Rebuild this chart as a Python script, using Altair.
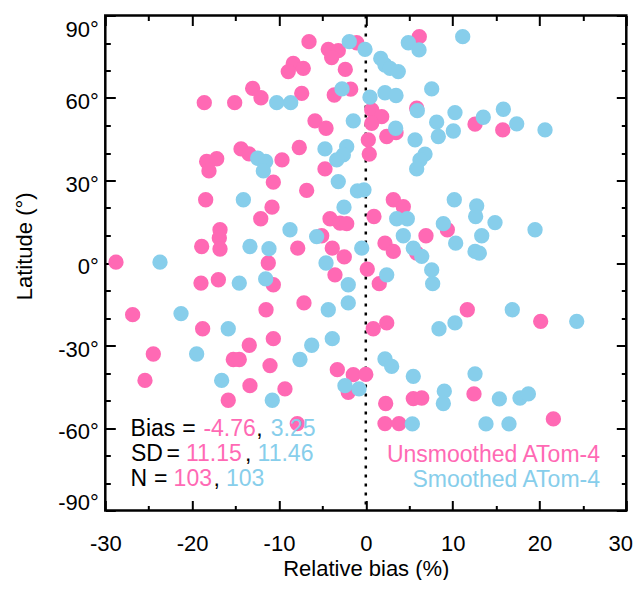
import altair as alt
import pandas as pd

PINK = "#FF69B4"
BLUE = "#87CEEB"
FONT = "Liberation Sans"
FS = 22
FS_NOTE = 23

# Unsmoothed ATom-4 (pink): relative bias (%) and latitude (deg)
pink_x = [-6.54, -4.32, -3.17, -3.93, -1.05, -2.36, -8.35, -8.93, -7.2, -13.03,
          -12.07, -18.6, -15.1, -7.38, -3.63, -1.74, -5.85, -4.58, -14.37, -13.45,
          -18.33, -17.17, -18.06, -7.66, -9.65, -4.70, -10.65, -6.81, -18.44, -10.8,
          -12.1, -4.12, -2.97, -2.2, -16.79, -16.87, -18.9, -16.79, -7.84, -5.08,
          -3.86, -2.48, -28.77, -11.23,
          6.16, 0.68, 1.83, 0.68, 5.86, 2.41, 3.48, 0.29, 0.4, 12.58,
          15.77, 3.17, 4.32, 0.94, 6.93, 9.39, 2.21, 3.17, 5.86,
          -3.55, -18.98, -16.98, -10.65, -26.85, -11.49, -7.12, -18.79, -10.65, -13.42,
          -24.47, -15.26, -14.57, -11.03, -3.28, -1.44, 0.0, -2.02, -25.43, -13.34,
          -9.31, -15.84, -7.89,
          0.17, 1.55, 0.86, 2.41, 11.69, 20.14, 2.29, 5.47, 6.44, 12.46,
          2.21, 3.82, 21.6]
pink_y = [80.5, 77.7, 77.2, 74.7, 80.1, 70.4, 72.6, 69.6, 70.8, 63.5,
          60.1, 58.3, 58.3, 61.7, 61.1, 63.2, 51.7, 49.0, 41.5, 39.7,
          36.9, 37.9, 33.5, 42.0, 37.5, 34.2, 29.4, 26.4, 23.0, 20.3,
          16.1, 16.1, 14.5, 14.3, 12.1, 9.1, 6.0, 5.1, 5.4, 9.9,
          5.4, 2.2, 0.3, 0.0,
          82.3, 55.7, 53.2, 50.8, 56.3, 46.0, 47.4, 44.8, 39.6, 50.5,
          48.4, 23.0, 20.5, 16.9, 9.9, 12.1, 7.2, 4.2, 3.6,
          -4.3, -7.3, -6.1, -7.9, -18.8, -17.0, -14.5, -23.9, -27.5, -29.9,
          -33.1, -35.1, -35.1, -37.3, -38.8, -40.6, -40.5, -47.0, -42.7, -44.6,
          -45.8, -49.9, -58.4,
          -2.2, -7.5, -23.9, -21.8, -17.0, -21.2, -51.1, -49.3, -49.1, -47.6,
          -58.4, -58.4, -56.7]

# Smoothed ATom-4 (blue)
blue_x = [-1.9, -0.09, -2.74, -10.26, -8.65, -1.44, -4.7, -2.2, -2.59, -3.35,
          -12.45, -11.53, -11.8, -3.17, -0.96, -14.1, -2.51, -8.73, -5.66, -13.34,
          -11.15, -0.47, -23.7, -4.58,
          11.16, 4.9, 6.13, 1.72, 2.21, 2.79, 3.74, 7.59, 0.48, 2.21,
          3.48, 5.93, 10.27, 13.53, 15.84, 17.38, 20.64, 8.16, 10.08, 8.35,
          3.44, 5.67, 6.82, 6.24, 5.86, -0.21, 10.19, 12.77, 12.65, 14.88,
          19.49, 3.56, 4.78, 8.93, 4.32, 13.35, 10.35, 5.47, 6.44, 12.58, 13.07,
          -14.57, -11.53, -2.02, -2.02, -4.32, -21.28, -15.84, -3.86, -6.23, -19.48,
          -7.58, -16.6, -10.77, -2.4, -0.78,
          2.41, 7.59, 7.7, 16.87, 24.29, 8.43, 10.27, 2.21, 2.98, 5.47,
          12.58, 9.04, 8.93, 15.38, 17.76, 18.72, 5.36, 13.84, 16.49]
blue_y = [80.5, 77.7, 63.3, 58.3, 58.3, 51.7, 41.5, 42.3, 39.3, 37.5,
          38.1, 36.9, 33.5, 29.6, 26.2, 23.0, 20.3, 12.1, 9.6, 6.0,
          5.2, 5.4, 0.3, 0.0,
          82.3, 80.1, 77.5, 74.4, 72.0, 70.8, 69.6, 63.3, 60.3, 61.9,
          60.9, 55.4, 54.7, 53.0, 55.9, 50.6, 48.4, 51.2, 48.0, 46.0,
          49.0, 44.8, 39.6, 37.5, 34.2, 26.6, 23.0, 20.8, 16.9, 14.7,
          12.1, 16.1, 16.1, 14.3, 9.9, 9.9, 7.2, 5.4, 2.4, 4.2, 3.6,
          -7.3, -5.8, -7.9, -14.5, -17.0, -18.4, -23.9, -27.5, -29.9, -33.1,
          -35.1, -42.7, -49.9, -44.6, -45.8,
          -4.3, -2.5, -7.5, -17.0, -21.2, -23.9, -21.8, -34.9, -37.6, -41.2,
          -40.3, -46.6, -51.1, -49.4, -49.1, -47.6, -58.5, -58.5, -58.5]

x_major = [-30, -20, -10, 0, 10, 20, 30]
x_minor = [-25, -15, -5, 5, 15, 25]
y_major = [-90, -60, -30, 0, 30, 60, 90]
y_minor = [-80, -70, -50, -40, -20, -10, 10, 20, 40, 50, 70, 80]

series_names = ["Unsmoothed ATom-4", "Smoothed ATom-4"]
bias_vals = ["-4.76", "3.25"]
sd_vals = ["11.15", "11.46"]
n_vals = ["103", "103"]

pink_df = pd.DataFrame({"x": pink_x, "y": pink_y})
blue_df = pd.DataFrame({"x": blue_x, "y": blue_y})

W, H = 521, 495
xscale = alt.Scale(domain=[-30, 30], nice=False, zero=False)
yscale = alt.Scale(domain=[-90, 90], nice=False, zero=False)


def tick_axis(orient, values, size, **kw):
    base = dict(orient=orient, values=values, tickSize=size, offset=-size,
                domain=False, grid=False, tickColor="black", tickWidth=2,
                labels=False, title=None)
    base.update(kw)
    return alt.Axis(**base)


ax_bottom = tick_axis(
    "bottom", x_major, 10, labels=True, labelFont=FONT, labelFontSize=FS,
    labelColor="black", labelPadding=23, labelFlush=False, labelOverlap=False,
    labelOffset={"condition": {"test": "datum.value == 30", "value": -6},
                 "value": 0},
    labelExpr="'' + datum.value", title="Relative bias (%)", titleFont=FONT,
    titleFontSize=FS, titleFontWeight="normal", titleColor="black",
    titleY=75, titleBaseline="alphabetic")
ax_left = tick_axis(
    "left", y_major, 10, labels=True, labelFont=FONT, labelFontSize=FS,
    labelColor="black", labelPadding=7, labelFlush=True, labelOffset=3.5,
    labelOverlap=False, labelExpr="datum.value + '°'",
    title="Latitude (°)", titleFont=FONT, titleFontSize=FS,
    titleFontWeight="normal", titleColor="black", titleAngle=270,
    titleX=-84.3, titleY=230.3, titleAlign="center", titleBaseline="alphabetic")

rule = alt.Chart(pd.DataFrame({"x": [0]})).mark_rule(
    color="black", strokeWidth=2.5, strokeDash=[3, 6]
).encode(x=alt.X("x:Q", scale=xscale, axis=None))

pink = alt.Chart(pink_df).mark_circle(size=235, color=PINK, opacity=1).encode(
    x=alt.X("x:Q", scale=xscale, axis=ax_bottom),
    y=alt.Y("y:Q", scale=yscale, axis=ax_left))

blue = alt.Chart(blue_df).mark_circle(size=235, color=BLUE, opacity=1).encode(
    x=alt.X("x:Q", scale=xscale, axis=tick_axis("top", x_major, 10)),
    y=alt.Y("y:Q", scale=yscale, axis=tick_axis("right", y_major, 10)))

minor1 = alt.Chart(pink_df).mark_circle(size=1, opacity=0).encode(
    x=alt.X("x:Q", scale=xscale, axis=tick_axis("bottom", x_minor, 5)),
    y=alt.Y("y:Q", scale=yscale, axis=tick_axis("left", y_minor, 5)))

minor2 = alt.Chart(pink_df).mark_circle(size=1, opacity=0).encode(
    x=alt.X("x:Q", scale=xscale, axis=tick_axis("top", x_minor, 5)),
    y=alt.Y("y:Q", scale=yscale, axis=tick_axis("right", y_minor, 5)))


def txt(s, color, x, y, align="left"):
    return alt.Chart(pd.DataFrame({"t": [s]})).mark_text(
        align=align, baseline="alphabetic", font=FONT, fontSize=FS_NOTE,
        color=color
    ).encode(text="t:N", x=alt.value(x), y=alt.value(y))


texts = [
    txt("Bias", "black", 25.3, 420.2), txt("=", "black", 76.9, 420.2),
    txt(bias_vals[0], PINK, 98.1, 420.2), txt(",", "black", 151, 420.2),
    txt(bias_vals[1], BLUE, 165.5, 420.2),
    txt("SD", "black", 25.6, 445.5), txt("=", "black", 61.3, 445.5),
    txt(sd_vals[0], PINK, 80.6, 445.5), txt(",", "black", 139.8, 445.5),
    txt(sd_vals[1], BLUE, 152.3, 445.5),
    txt("N", "black", 25.3, 470.5), txt("=", "black", 48.6, 470.5),
    txt(n_vals[0], PINK, 68.3, 470.5), txt(",", "black", 108.2, 470.5),
    txt(n_vals[1], BLUE, 120.6, 470.5),
    txt(series_names[0], PINK, 494.7, 446.2, align="right"),
    txt(series_names[1], BLUE, 494.7, 471.2, align="right"),
]

chart = alt.layer(rule, pink, blue, minor1, minor2, *texts).resolve_axis(
    x="independent", y="independent"
).properties(
    width=W, height=H,
    padding={"left": 97.3, "top": 7.5, "right": 6.7, "bottom": 69.5},
    autosize=alt.AutoSizeParams(type="none"),
    background="white",
).configure_view(stroke="black", strokeWidth=2.5)

chart.save("out.html", embed_options={"renderer": "svg", "actions": False})
